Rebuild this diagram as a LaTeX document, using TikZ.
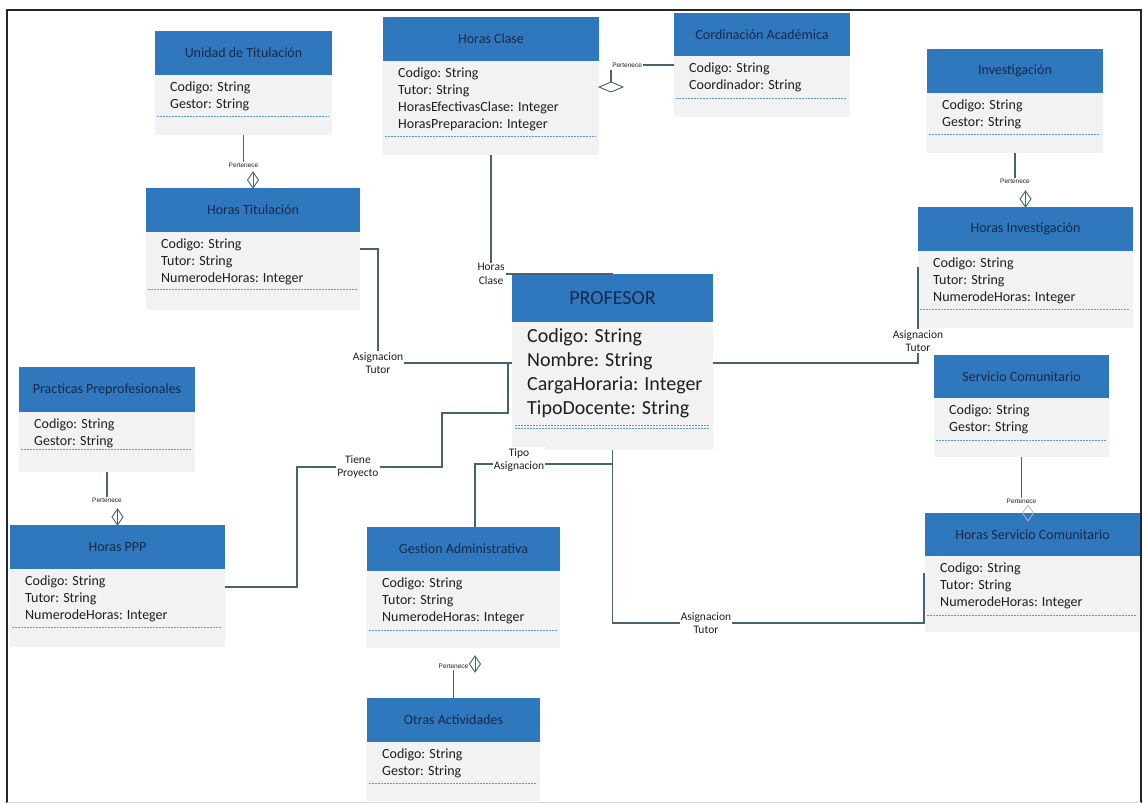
\documentclass[tikz,border=0pt]{standalone}
\usepackage{fontspec}
\setmainfont{Carlito}
\newfontfamily\tinyfont{Liberation Sans}
\usetikzlibrary{calc}

\definecolor{hdrblue}{HTML}{2F78BE}
\definecolor{titleink}{HTML}{18294A}
\definecolor{bodygray}{HTML}{F2F2F2}
\definecolor{attrink}{HTML}{1E1E1E}
\definecolor{dashblue}{HTML}{5B9BD5}
\definecolor{connink}{HTML}{46646F}

\tikzset{
  hdr/.style={fill=hdrblue, draw=none, inner sep=0pt, outer sep=0pt,
    text=titleink, font=\fontsize{14}{17}\selectfont},
  bdy/.style={fill=bodygray, draw=none, inner sep=0pt, outer sep=0pt},
  attr/.style={inner sep=0pt, align=left, text=attrink,
    font=\fontsize{14}{17}\selectfont},
  dsh/.style={draw=dashblue, line width=0.8pt, dash pattern=on 2pt off 1pt},
  conn/.style={draw=connink, line width=1.2pt},
  lbl/.style={fill=white, inner sep=1pt, align=center, text=attrink,
    font=\fontsize{11.5}{13.5}\selectfont},
  pert/.style={inner sep=0.5pt, text=attrink, font=\tinyfont\fontsize{6.5}{7}\selectfont},
  agg/.style={draw=connink, line width=0.9pt, fill=white}
}

% class box: name, left, top, right, header bottom, dashed y, bottom, title, attributes
\newcommand\umlclass[9]{%
  \node[hdr, minimum width={#4pt-#2pt}, minimum height={#5pt-#3pt}, anchor=north west] (#1) at (#2,#3) {#8};
  \node[bdy, minimum width={#4pt-#2pt}, minimum height={#7pt-#5pt}, anchor=north west] (#1-b) at (#2,#5) {};
  \node[attr, anchor=north west] (#1-t) at (#2+15,#5+7) {#9};
  \draw[dsh] (#2+2,#6) -- (#4-3,#6);
}

% narrow hollow diamond hanging above a point (tip at the point)
\newcommand\aggdiamond[1]{%
  \draw[agg] (#1) -- ++(-5.5,-8) -- ++(5.5,-8) -- ++(5.5,8) -- cycle;
  \draw[connink, line width=0.7pt] (#1) -- ++(0,-16);
}

\begin{document}
\begin{tikzpicture}[x=1pt, y=-1pt]
\useasboundingbox (0,0) rectangle (1143,803);

% outer frame
\draw[black!85, line width=1.6pt] (7,803) -- (7,10) -- (1141,10) -- (1141,803);
\draw[black!15, line width=1pt] (7,802) -- (1141,802);

% classes
\umlclass{ut}{155}{31}{332}{75}{116}{135}{Unidad de Titulación}{Codigo: String\\Gestor: String}
\umlclass{ht}{146}{188}{360}{232}{289}{310}{Horas Titulación}{Codigo: String\\Tutor: String\\NumerodeHoras: Integer}
\umlclass{hc}{383}{17}{599}{61}{136}{155}{Horas Clase}{Codigo: String\\Tutor: String\\HorasEfectivasClase: Integer\\HorasPreparacion: Integer}
\umlclass{ca}{674}{13}{850}{56}{98}{117}{Cordinación Académica}{Codigo: String\\Coordinador: String}
\umlclass{inv}{927}{49}{1103}{93}{134}{153}{Investigación}{Codigo: String\\Gestor: String}
\umlclass{hi}{918}{207}{1133}{251}{309}{328}{Horas Investigación}{Codigo: String\\Tutor: String\\NumerodeHoras: Integer}
\umlclass{pp}{19}{367}{195}{412}{449}{472}{Practicas Preprofesionales}{Codigo: String\\Gestor: String}
\umlclass{hp}{10}{525}{225}{569}{627}{647}{Horas PPP}{Codigo: String\\Tutor: String\\NumerodeHoras: Integer}
\umlclass{ga}{367}{527}{560}{571}{630}{648}{Gestion Administrativa}{Codigo: String\\Tutor: String\\NumerodeHoras: Integer}
\umlclass{oa}{367}{698}{540}{742}{783}{801}{Otras Actividades}{Codigo: String\\Gestor: String}
\umlclass{sc}{934}{355}{1109}{398}{440}{457}{Servicio Comunitario}{Codigo: String\\Gestor: String}
\umlclass{hs}{925}{513}{1140}{556}{615}{632}{Horas Servicio Comunitario}{Codigo: String\\Tutor: String\\NumerodeHoras: Integer}

% central class
\node[hdr, font=\fontsize{20}{24}\selectfont, minimum width=201pt, minimum height=48pt, anchor=north west] (pr) at (512,274) {PROFESOR};
\node[bdy, minimum width=201pt, minimum height=128pt, anchor=north west] (pr-b) at (512,322) {};
\node[attr, font=\fontsize{20}{24}\selectfont, anchor=north west] (pr-t) at (527,328) {Codigo: String\\Nombre: String\\CargaHoraria: Integer\\TipoDocente: String};
\draw[dsh] (515,425) -- (710,425);
\draw[dsh] (515,428) -- (710,428);

% "Pertenece" links
\draw[conn] (ut-b.south) -- ++(0,27) node[pert, below] (p1) {Pertenece};
\aggdiamond{ht.north}

\draw[conn] (inv-b.south) -- ++(0,25) node[pert, below] (p3) {Pertenece};
\aggdiamond{hi.north}

\draw[conn] (pp-b.south) -- ++(0,25) node[pert, below] (p4) {Pertenece};
\aggdiamond{hp.north}

\draw[conn] (sc-b.south) -- ++(0,41) node[pert, below] (p5) {Pertenece};
\draw[connink!45, line width=0.8pt] ([xshift=-4.5pt,yshift=-8pt]hs.north) -- ++(-5.5,-8) -- ++(5.5,-8) -- ++(5.5,8) -- cycle;

\draw[conn] (oa.north) -- ++(0,-28) node[pert, above] (p6) {Pertenece};
\aggdiamond{$(ga-b.south)+(11.5,24)$}

\draw[conn] ([yshift=-9pt]ca-b.north west) -- ++(-31,0) node[pert, left] (p2) {Pertenece};
\coordinate (hcagg) at ([yshift=-26pt]hc-b.north east);
\draw[conn] ($(hcagg)+(12,-17)$) -- ($(hcagg)+(12,-5)$);
\draw[agg] (hcagg) -- ++(12,-5) -- ++(12,5) -- ++(-12,5) -- cycle;

% associations of PROFESOR
\draw[conn] (hc-b.south) |- node[lbl, pos=0.5] (l1) {Horas\\Clase} (pr.north);

\draw[conn] ([yshift=-41pt]pr-b.north west) -| node[lbl, pos=0.5] (l2) {Asignacion\\Tutor}
  ([xshift=18pt,yshift=-17pt]ht-b.north east) -- ([yshift=-17pt]ht-b.north east);

\coordinate (tp) at ([xshift=-4pt,yshift=-41pt]pr-b.north west);
\draw[conn] (tp) -- ++(0,50) -- ++(-66,0) -- ++(0,54)
  -- node[lbl, pos=0.58] (l3) {Tiene\\Proyecto} ++(-145,0)
  |- ([yshift=-18pt]hp-b.north east);

\draw[conn] (pr-b.south) -- ++(0,14) -| node[lbl, pos=0.34, yshift=4pt] (l4) {Tipo\\Asignacion}
  ([xshift=11.5pt]ga.north);

\draw[conn] (pr-b.south) |- node[lbl, pos=0.65] (l5) {Asignacion\\Tutor}
  ([xshift=-1pt,yshift=-67pt]hs-b.north west) -- ([xshift=-1pt,yshift=-17pt]hs-b.north west);

\draw[conn] ([yshift=-41pt]pr-b.north east) -| node[lbl, pos=0.615] (l6) {Asignacion\\Tutor}
  ([yshift=-16pt]hi-b.north west);

\end{tikzpicture}
\end{document}
